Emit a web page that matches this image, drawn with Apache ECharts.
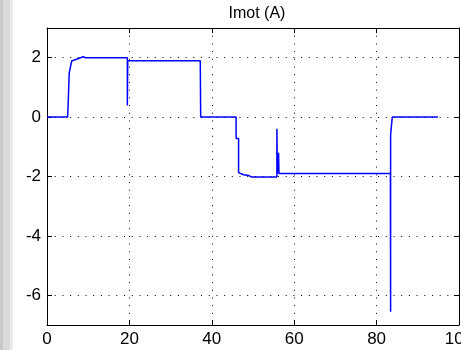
<!DOCTYPE html>
<html>
<head>
<meta charset="utf-8">
<script src="https://cdn.jsdelivr.net/npm/echarts@6/dist/echarts.min.js"></script>
<style>
html,body{margin:0;padding:0;background:#fff;}
#c{width:461px;height:350px;}
</style>
</head>
<body>
<div id="c"></div>
<script>
var chartTitle = 'Imot (A)';
var xTicks = [0, 20, 40, 60, 80, 100];
var yTicks = [-6, -4, -2, 0, 2];
var tSec = [0, 5.0, 5.1, 5.4, 6.0, 6.4, 8.8, 9.3, 19.5, 19.5, 19.6, 37.2, 37.3, 45.9, 45.9, 46.5, 46.5, 47.7, 49.0, 49.7, 55.8, 55.8, 55.9, 56.2, 56.2, 56.3, 83.35, 83.4, 83.4, 83.8, 83.8, 94.9];
var iMot = [0, 0, 0.3, 1.5, 1.89, 1.9, 2.03, 2.0, 2.0, 0.39, 1.9, 1.9, 0, 0, -0.72, -0.72, -1.87, -1.94, -1.97, -2.02, -2.02, -0.39, -1.9, -1.9, -1.2, -1.9, -1.9, -6.55, -0.6, -0.58, 0, 0];

var pts = tSec.map(function (t, i) { return [t, iMot[i]]; });

var chart = echarts.init(document.getElementById('c'), null, {renderer: 'canvas'});
var font = 'Liberation Sans, Arial, sans-serif';
var dotted = {color: '#000', width: 1, type: [1, 6.7]};
chart.setOption({
  animation: false,
  backgroundColor: '#fff',
  title: {
    text: chartTitle, left: 252, top: 1, textAlign: 'center',
    textStyle: {fontFamily: font, fontSize: 16, fontWeight: 'normal', color: '#000'}
  },
  graphic: [
    {type: 'rect', shape: {x: 0, y: 0, width: 3, height: 350}, style: {fill: '#c8c8c8'}, silent: true},
    {type: 'rect', shape: {x: 3, y: 0, width: 7, height: 350}, style: {fill: '#dadada'}, silent: true},
    {type: 'rect', shape: {x: 10, y: 0, width: 3, height: 350}, style: {fill: '#ececec'}, silent: true}
  ],
  grid: {left: 47, top: 28, width: 412, height: 297, show: false, containLabel: false, outerBoundsMode: 'none'},
  xAxis: [{
    type: 'value', min: xTicks[0], max: xTicks[xTicks.length - 1], interval: 20, position: 'bottom',
    axisLine: {show: true, onZero: false, lineStyle: {color: '#000', width: 1}},
    axisTick: {show: true, inside: true, length: 5, lineStyle: {color: '#000'}},
    axisLabel: {color: '#000', fontFamily: font, fontSize: 17, margin: 6, hideOverlap: false},
    splitLine: {show: true, lineStyle: dotted}
  }, {
    type: 'value', min: xTicks[0], max: xTicks[xTicks.length - 1], interval: 20, position: 'top',
    axisLine: {show: true, onZero: false, lineStyle: {color: '#000', width: 1}},
    axisTick: {show: true, inside: true, length: 5, lineStyle: {color: '#000'}},
    axisLabel: {show: false}, splitLine: {show: false}
  }],
  yAxis: [{
    type: 'value', min: -7, max: 3, splitNumber: 5, position: 'left',
    axisLine: {show: true, onZero: false, lineStyle: {color: '#000', width: 1}},
    axisTick: {show: true, inside: true, length: 5, lineStyle: {color: '#000'}},
    axisLabel: {color: '#000', fontFamily: font, fontSize: 17, margin: 6,
      formatter: function (v) { return yTicks.indexOf(v) >= 0 ? String(v) : ''; }},
    splitLine: {show: true, lineStyle: dotted}
  }, {
    type: 'value', min: -7, max: 3, splitNumber: 5, position: 'right',
    axisLine: {show: true, onZero: false, lineStyle: {color: '#000', width: 1}},
    axisTick: {show: true, inside: true, length: 5, lineStyle: {color: '#000'}},
    axisLabel: {show: false}, splitLine: {show: false}
  }],
  series: [{
    type: 'line', xAxisIndex: 0, yAxisIndex: 0, data: pts,
    showSymbol: false, symbol: 'none',
    lineStyle: {color: '#0000ff', width: 1.5},
    itemStyle: {color: '#0000ff'}
  }]
});
</script>
</body>
</html>
